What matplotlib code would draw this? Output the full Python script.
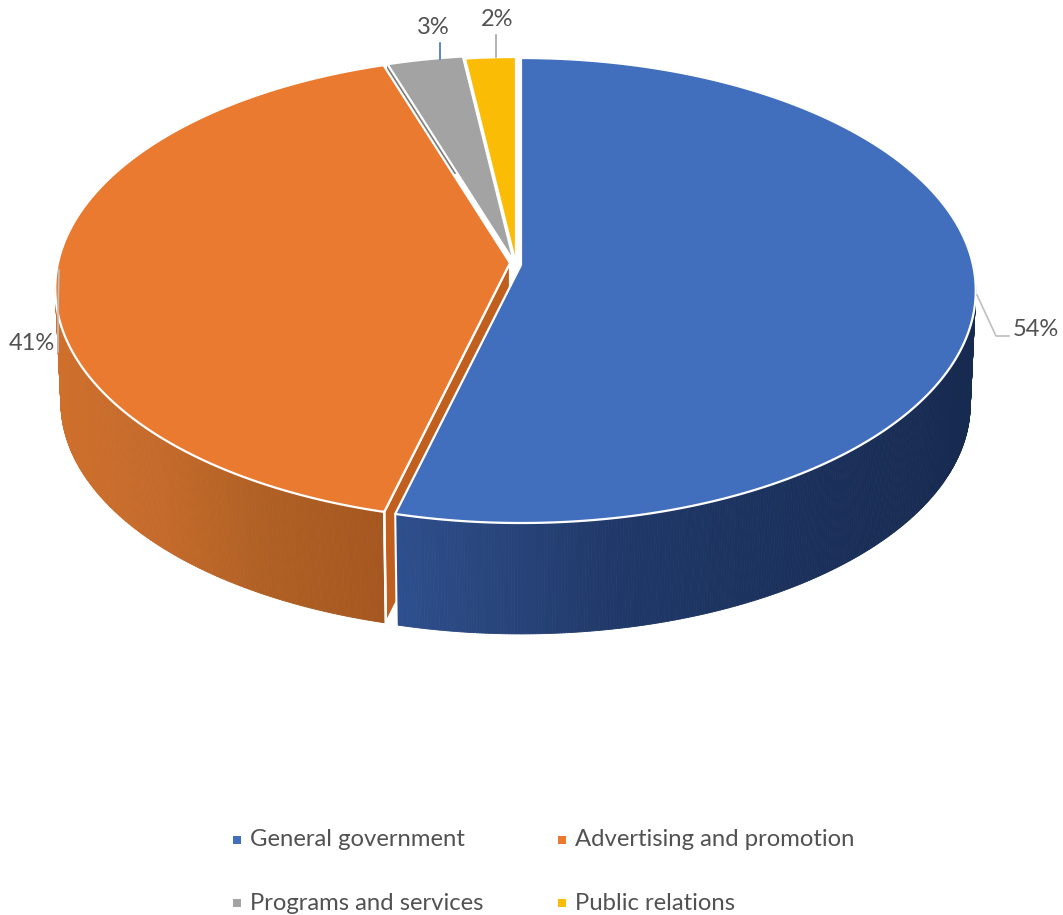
import numpy as np
import matplotlib
matplotlib.use("Agg")
import matplotlib.pyplot as plt
from matplotlib.collections import PolyCollection
from matplotlib.patches import Polygon

categories = ["General government", "Advertising and promotion", "Programs and services", "Public relations"]
shares = [54, 41, 3, 2]
share_labels = ["54%", "41%", "3%", "2%"]
colors = ["#416FBD", "#E97A2F", "#A3A3A3", "#FBBC05"]

plt.rcParams["font.family"] = ["Lato", "DejaVu Sans"]
TEXT = "#525252"

# pie geometry in pixels
CX, CY = 521, 265
B, A, K = 452, 229.7, 0.1097
DEPTH, SHRINK = 114, 0.988
# pull-out of each slice
offsets = [(0, 0), (-11, -2), (-7, -3), (-5, -1)]
# side wall shade, left side to right side of the pie
wall_shades = [
    [(0.0, "#2E5090"), (0.14, "#2A477F"), (0.4, "#1F3868"), (1.0, "#172A50")],
    [(0.0, "#CE6F2C"), (0.3, "#C46A2B"), (0.6, "#B06024"), (1.0, "#A4561F")],
    [(0.0, "#7C7C7C"), (1.0, "#7C7C7C")],
    [(0.0, "#BF9000"), (1.0, "#BF9000")],
]


def top_xy(deg, off):
    # deg runs clockwise from twelve o'clock, with a perspective squeeze toward the back
    t = np.radians(90 - np.asarray(deg, dtype=float))
    x, y = np.cos(t), np.sin(t)
    den = 1 + K * y
    return np.column_stack([B * x / den + off[0], -A * y / den + off[1]])


def drop(xy):
    return xy * SHRINK + [0, DEPTH]


def place(xy):
    return xy + [CX, CY]


def shade(stops, frac):
    pos = [s[0] for s in stops]
    rgb = np.array([matplotlib.colors.to_rgb(s[1]) for s in stops])
    return [np.interp(frac, pos, rgb[:, i]) for i in range(3)]


fig = plt.figure(figsize=(10.63, 9.15), dpi=100)
ax = fig.add_axes([0, 0, 1, 1])
ax.set_xlim(0, 1063)
ax.set_ylim(915, 0)
ax.axis("off")

edges = np.concatenate([[0], np.cumsum(shares) / np.sum(shares) * 360])

# back slices first so the front ones sit on top
for i in [3, 2, 1, 0]:
    a0, a1 = edges[i], edges[i + 1]
    off = offsets[i]
    deg = np.linspace(a0, a1, max(int((a1 - a0) * 3), 8))
    rim = top_xy(deg, off)
    low = drop(rim)
    tip = np.array([off], dtype=float)

    # curved outer wall
    quads, cols = [], []
    for j in range(len(deg) - 1):
        quads.append(place(np.array([rim[j], rim[j + 1], low[j + 1], low[j]])))
        frac = abs(rim[j, 0] - rim[0, 0]) / max(np.ptp(rim[:, 0]), 1)
        if i == 1:
            frac = (rim[j, 0] + 460) / 335
        if i == 0:
            frac = (rim[j, 0] + 131) / 585
        cols.append(shade(wall_shades[i], np.clip(frac, 0, 1)))
    ax.add_collection(PolyCollection(quads, facecolors=cols, edgecolors=cols, linewidths=0.6))

    # cut face of a pulled-out slice
    if i == 1:
        face = np.array([tip[0], rim[0], low[0], drop(tip)[0]])
        ax.add_patch(Polygon(place(face), closed=True, fc="#C05F1E", ec="white", lw=1.6))
        ax.plot(*place(np.array([rim[0], low[0]])).T, color="white", lw=1.8)
    if i == 0:
        ax.plot(*place(np.array([rim[-1], low[-1]])).T, color="white", lw=1.5)

    # top surface
    ax.add_patch(Polygon(place(np.vstack([tip, rim])), closed=True, fc=colors[i], ec="white", lw=1.6, joinstyle="round"))

# leader lines
ax.plot([977, 996, 1009], [295, 336, 336], color="#BFBFBF", lw=1.2)
ax.plot([59, 58, 58], [270, 310, 352], color="#BFBFBF", lw=1.2)
ax.plot([440, 440], [43, 59], color="#4472C4", lw=1.2)
ax.plot([496, 496], [35, 57], color="#A5A5A5", lw=1.2)

# percentage labels
label_pos = [(1036, 330), (32, 343), (433, 27), (497, 20)]
for (lx, ly), txt in zip(label_pos, share_labels):
    ax.text(lx, ly, txt, color=TEXT, fontsize=17, ha="center", va="center")

# legend
legend_pos = [(237, 840), (562, 840), (237, 903), (562, 903)]
for (lx, ly), name, c in zip(legend_pos, categories, colors):
    ax.scatter([lx], [ly], marker="s", s=36, color=c, linewidths=0)
    ax.text(lx + 13, ly, name, color=TEXT, fontsize=17.2, ha="left", va="center")

fig.savefig("out.png", dpi=100)
